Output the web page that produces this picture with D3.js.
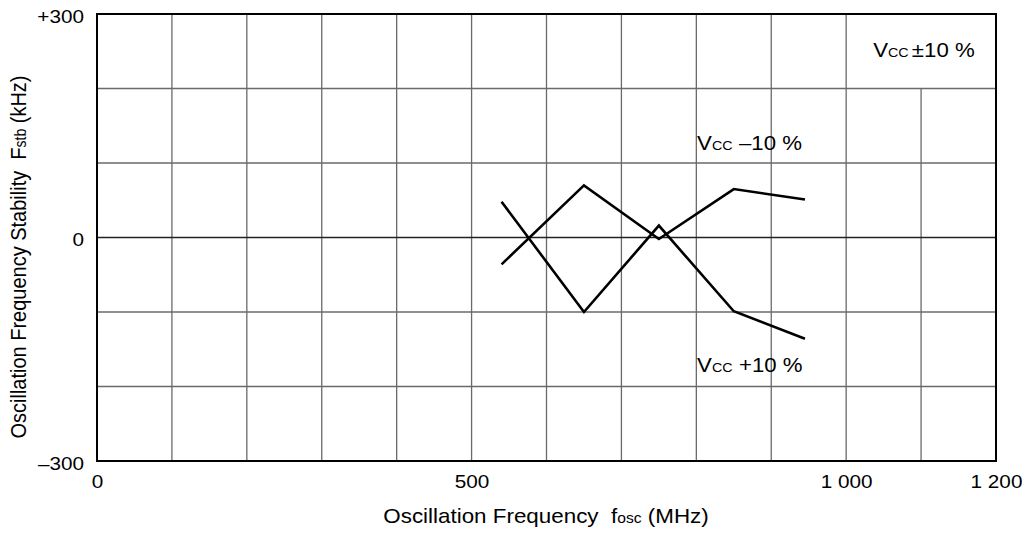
<!DOCTYPE html>
<html lang="en">
  <head>
    <meta charset="utf-8" />
    <title>Oscillation Frequency Stability</title>
    <script src="https://cdn.jsdelivr.net/npm/d3@7"></script>
    <style>
      body { margin: 0; background: #fff; }
    </style>
  </head>
  <body>
    <svg id="chart" width="1027" height="542"></svg>
    <script>
      // data
      const freq = [540, 650, 750, 850, 945];           // MHz
      const vccMinus10 = [-36, 70, -2, 65, 51];          // kHz
      const vccPlus10 = [48, -100, 16, -99, -136];       // kHz
      const xTicks = [0, 500, 1000, 1200];
      const xTickLabels = ["0", "500", "1 000", "1 200"];
      const yTicks = [-300, 0, 300];
      const yTickLabels = ["\u2013300", "0", "+300"];
      const xGrid = d3.range(100, 1200, 100);
      const yGrid = [-200, -100, 0, 100, 200];

      const svg = d3.select("#chart")
        .attr("font-family", "'Liberation Sans', Arial, sans-serif")
        .attr("fill", "#000");

      var margin = {top: 14, right: 31, bottom: 81, left: 97};
      var width = +svg.attr("width");
      var height = +svg.attr("height");
      var sx = 1.12; // the reference text is slightly wide

      var x = d3.scaleLinear().domain([0, 1200]).range([margin.left, width - margin.right]);
      var y = d3.scaleLinear().domain([-300, 300]).range([height - margin.bottom, margin.top]);

      // text helper, stretched horizontally like the source
      function label(g, px, py, anchor, size, k) {
        return g.append("text")
          .attr("transform", `translate(${px},${py}) scale(${k || sx},1)`)
          .attr("text-anchor", anchor)
          .attr("font-size", size);
      }

      // grid
      const grid = svg.append("g");
      grid.selectAll("line.v")
        .data(xGrid)
        .join("line")
          .attr("class", "v")
          .attr("x1", d => x(d)).attr("x2", d => x(d))
          .attr("y1", y(-300))
          // top-right cell is left open for the Vcc note
          .attr("y2", d => d === 1100 ? y(200) : y(300))
          .attr("stroke", "#6a6a6a")
          .attr("stroke-width", 1.3);
      grid.selectAll("line.h")
        .data(yGrid)
        .join("line")
          .attr("class", "h")
          .attr("x1", x(0)).attr("x2", x(1200))
          .attr("y1", d => y(d)).attr("y2", d => y(d))
          .attr("stroke", d => d === 0 ? "#222" : "#6a6a6a")
          .attr("stroke-width", 1.3);

      // frame
      svg.append("rect")
        .attr("x", x(0)).attr("y", y(300))
        .attr("width", x(1200) - x(0))
        .attr("height", y(-300) - y(300))
        .attr("fill", "none")
        .attr("stroke", "#000")
        .attr("stroke-width", 2);

      // axes (labels only)
      var xAxis = d3.axisBottom(x).tickValues(xTicks)
        .tickFormat((d, i) => xTickLabels[i]).tickSize(0).tickPadding(0);
      svg.append("g")
        .attr("transform", `translate(0,${y(-300)})`)
        .call(xAxis)
        .call(g => g.select(".domain").remove())
        .call(g => g.selectAll(".tick text")
          .attr("y", 0).attr("dy", 0)
          .attr("transform", `translate(0,27) scale(${sx},1)`)
          .attr("font-family", "'Liberation Sans', Arial, sans-serif")
          .attr("font-size", 18.5).attr("fill", "#000"));

      var yAxis = d3.axisLeft(y).tickValues(yTicks)
        .tickFormat((d, i) => yTickLabels[i]).tickSize(0).tickPadding(0);
      svg.append("g")
        .attr("transform", `translate(${x(0) - 13},0)`)
        .call(yAxis)
        .call(g => g.select(".domain").remove())
        .call(g => g.selectAll(".tick text")
          .attr("x", 0).attr("dy", 0)
          .attr("transform", `translate(0,8) scale(${sx},1)`)
          .attr("font-family", "'Liberation Sans', Arial, sans-serif")
          .attr("font-size", 18.5).attr("fill", "#000"));

      // series
      var line = d3.line().x(d => x(d[0])).y(d => y(d[1]));
      [vccMinus10, vccPlus10].forEach(vals => {
        svg.append("path")
          .datum(d3.zip(freq, vals))
          .attr("fill", "none")
          .attr("stroke", "#000")
          .attr("stroke-width", 2.6)
          .attr("stroke-linejoin", "miter")
          .attr("d", line);
      });

      // annotations
      function vccNote(px, py, rest, gap) {
        var t = label(svg, px, py, "start", 21, 1.06);
        t.append("tspan").text("V");
        t.append("tspan").attr("font-size", 13.5).text("CC");
        t.append("tspan").attr("dx", gap).text(rest);
      }
      vccNote(x(1036), y(242), "\u00b110 %", 3);
      vccNote(x(801), y(118), "\u201310 %", 6);
      vccNote(x(801), y(-181), "+10 %", 6);

      // axis titles
      var xt = label(svg, 546, 523, "middle", 20);
      xt.append("tspan").text("Oscillation Frequency\u00a0\u00a0f");
      xt.append("tspan").attr("font-size", 14).text("osc");
      xt.append("tspan").text(" (MHz)");

      var yt = svg.append("text")
        .attr("transform", `translate(26,257) scale(${sx},1) rotate(-90)`)
        .attr("text-anchor", "middle")
        .attr("font-size", 20);
      yt.append("tspan").text("Oscillation Frequency Stability\u00a0\u00a0F");
      yt.append("tspan").attr("font-size", 14).text("stb");
      yt.append("tspan").text(" (kHz)");
    </script>
  </body>
</html>
